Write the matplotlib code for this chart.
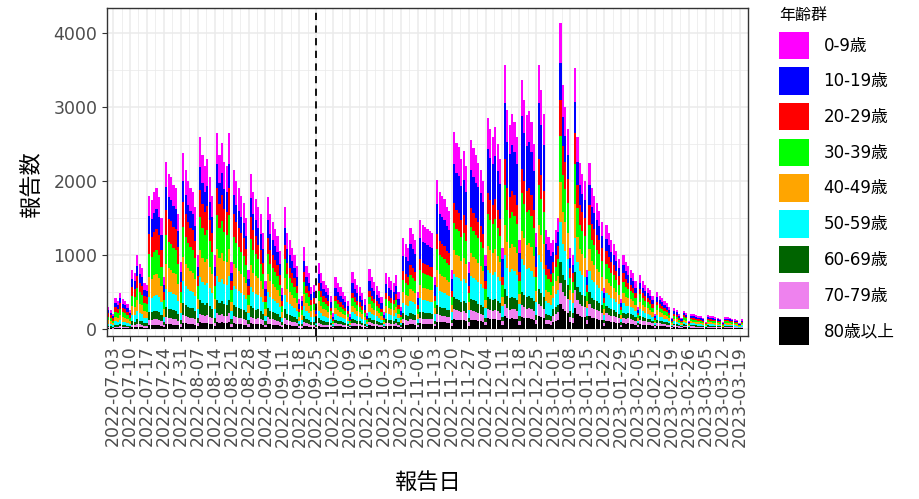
import numpy as np
import pandas as pd
import matplotlib
matplotlib.use("Agg")
import matplotlib.pyplot as plt
import matplotlib.dates as mdates
from matplotlib.patches import Patch

plt.rcParams['font.family'] = ['DejaVu Sans', 'Noto Sans CJK JP']

# ── data ──────────────────────────────────────────────────────────────────────
start_date = "2022-07-01"
end_date = "2023-03-20"

# daily reported totals, 2022-07-01 .. 2023-03-20
daily_totals = [
    300, 260,                                   # 07-01 Fri, 07-02 Sat
    200, 420, 380, 490, 400, 380, 330,          # week of 07-03
    260, 800, 760, 1000, 880, 820, 620,         # 07-10
    600, 1800, 1750, 1850, 1900, 1780, 1500,    # 07-17
    700, 2260, 2100, 2050, 1950, 1900, 1560,    # 07-24
    900, 2380, 2150, 2000, 1900, 1850, 1650,    # 07-31
    1000, 2600, 2350, 2200, 2300, 2050, 1800,   # 08-07
    1000, 2650, 2350, 2510, 2250, 2200, 2650,   # 08-14
    900, 2150, 2000, 1900, 1800, 1700, 1500,    # 08-21
    800, 2100, 1850, 1750, 1650, 1550, 1300,    # 08-28
    650, 1780, 1550, 1450, 1350, 1250, 1050,    # 09-04
    550, 1650, 1300, 1200, 1100, 1000, 850,     # 09-11
    400, 450, 1110, 850, 750, 570, 600,         # 09-18
    300, 890, 750, 650, 600, 550, 450,          # 09-25
    210, 700, 620, 560, 500, 450, 380,          # 10-02
    200, 770, 680, 600, 560, 480, 400,          # 10-09
    220, 810, 700, 640, 580, 520, 430,          # 10-16
    230, 760, 700, 650, 620, 730, 500,          # 10-23
    300, 1230, 1150, 1100, 1360, 1280, 1200,    # 10-30
    500, 1470, 1400, 1380, 1350, 1320, 1300,    # 11-06
    700, 2010, 1850, 1800, 1750, 1650, 1600,    # 11-13
    800, 2660, 2510, 2460, 2300, 2400, 2200,    # 11-20
    900, 2550, 2450, 2350, 2250, 2150, 2000,    # 11-27
    1000, 2850, 2700, 2600, 2730, 2500, 2300,   # 12-04
    1100, 3570, 2960, 2760, 2900, 2800, 2600,   # 12-11
    1200, 3360, 3100, 2890, 2950, 2800, 2500,   # 12-18
    1300, 3570, 3230, 2900, 1340, 1250, 1160,   # 12-25
    1200, 1340, 1500, 4135, 3300, 3000, 2700,   # 01-01
    1100, 1000, 3530, 2600, 2240, 2100, 2000,   # 01-08
    800, 2240, 1900, 1800, 1700, 1600, 1450,    # 01-15
    550, 1400, 1300, 1200, 1150, 1050, 950,     # 01-22
    400, 1000, 900, 850, 800, 750, 650,         # 01-29
    300, 730, 650, 600, 560, 520, 450,          # 02-05
    200, 500, 450, 420, 380, 350, 300,          # 02-12
    150, 280, 260, 200, 150, 250, 220,          # 02-19
    110, 210, 200, 190, 180, 170, 150,          # 02-26
    100, 190, 180, 170, 160, 150, 140,          # 03-05
    90, 165, 160, 150, 140, 130, 120,           # 03-12
    80, 130,                                    # 03-19, 03-20
]

age_groups = ["0-9歳", "10-19歳", "20-29歳", "30-39歳", "40-49歳",
              "50-59歳", "60-69歳", "70-79歳", "80歳以上"]
age_colors = ["#FF00FF", "#0000FF", "#FF0000", "#00FF00", "#FFA500",
              "#00FFFF", "#006400", "#EE82EE", "#000000"]

# monthly share of each age group (Jul 2022 .. Mar 2023)
months = ["2022-07", "2022-08", "2022-09", "2022-10", "2022-11",
          "2022-12", "2023-01", "2023-02", "2023-03"]
share_0_9 = [0.15, 0.16, 0.17, 0.20, 0.16, 0.145, 0.13, 0.14, 0.14]
share_10_19 = [0.14, 0.12, 0.14, 0.16, 0.20, 0.21, 0.12, 0.12, 0.12]
share_20_29 = [0.15, 0.14, 0.12, 0.10, 0.10, 0.10, 0.12, 0.10, 0.10]
share_30_39 = [0.17, 0.17, 0.15, 0.13, 0.14, 0.15, 0.15, 0.14, 0.14]
share_40_49 = [0.15, 0.14, 0.14, 0.12, 0.12, 0.115, 0.13, 0.13, 0.13]
share_50_59 = [0.11, 0.12, 0.12, 0.11, 0.12, 0.13, 0.13, 0.12, 0.12]
share_60_69 = [0.06, 0.07, 0.07, 0.07, 0.06, 0.055, 0.07, 0.08, 0.08]
share_70_79 = [0.04, 0.045, 0.05, 0.05, 0.05, 0.045, 0.07, 0.08, 0.08]
share_80_up = [0.03, 0.035, 0.04, 0.06, 0.05, 0.05, 0.08, 0.09, 0.09]

vline_date = "2022-09-25"

# ── build per-group daily counts ─────────────────────────────────────────────
dates = pd.date_range(start_date, end_date, freq="D")
totals = np.array(daily_totals, dtype=float)
month_idx = np.array([months.index(d.strftime("%Y-%m")) for d in dates])
shares = np.array([share_0_9, share_10_19, share_20_29, share_30_39, share_40_49,
                   share_50_59, share_60_69, share_70_79, share_80_up])
counts = np.round(totals[None, :] * shares[:, month_idx])

# ── plot ─────────────────────────────────────────────────────────────────────
fig = plt.figure(figsize=(9.2, 4.99), dpi=100)
ax = fig.add_axes([107 / 920, 1 - 336 / 499, 641 / 920, 328 / 499])

xnum = mdates.date2num(dates)
bottom = np.zeros(len(dates))
for i in range(len(age_groups) - 1, -1, -1):   # stack 80+ at the bottom
    ax.bar(xnum, counts[i], width=0.9, bottom=bottom, color=age_colors[i],
           linewidth=0, zorder=2)
    bottom += counts[i]

ax.axvline(mdates.date2num(pd.Timestamp(vline_date)), color="black",
           linestyle=(0, (4, 3)), linewidth=1.3, zorder=3)

ax.set_xlim(xnum[0] - 0.5, xnum[-1] + 0.5)
ax.set_ylim(-95, 4338)

week_ticks = pd.date_range("2022-07-03", "2023-03-19", freq="7D")
ax.set_xticks(mdates.date2num(week_ticks))
ax.set_xticklabels([d.strftime("%Y-%m-%d") for d in week_ticks], rotation=90)
ax.set_xticks(mdates.date2num(week_ticks) + 3.5, minor=True)
ax.set_yticks([0, 1000, 2000, 3000, 4000])
ax.set_yticks([500, 1500, 2500, 3500], minor=True)

ax.tick_params(axis="both", which="major", labelsize=12.5, labelcolor="#4D4D4D",
               color="#333333", length=3.5, width=0.8)
ax.tick_params(axis="x", which="major", labelsize=12.5)
ax.tick_params(axis="both", which="minor", length=0)

ax.grid(True, which="major", color="#EBEBEB", linewidth=1.1, zorder=0)
ax.grid(True, which="minor", color="#EBEBEB", linewidth=0.55, zorder=0)
ax.set_axisbelow(True)
for s in ax.spines.values():
    s.set_color("#333333")
    s.set_linewidth(1.0)

ax.set_xlabel("報告日", fontsize=16, family=["Noto Sans CJK JP"])
ax.xaxis.set_label_coords(0.5, -0.41)
ax.set_ylabel("報告数", fontsize=16, family=["Noto Sans CJK JP"])
ax.yaxis.set_label_coords(-0.10, 0.46)

handles = [Patch(facecolor=c, edgecolor="none") for c in age_colors]
leg = fig.legend(handles, age_groups, loc="upper left",
                 bbox_to_anchor=(776 / 920, 1 - 5 / 499), frameon=False,
                 title="年齢群", title_fontsize=11.5, fontsize=12,
                 handlelength=1.8, handleheight=2.15, labelspacing=0.5,
                 handletextpad=0.85, borderpad=0.2, borderaxespad=0)
leg._legend_box.align = "left"

fig.savefig("out.png", dpi=100)
